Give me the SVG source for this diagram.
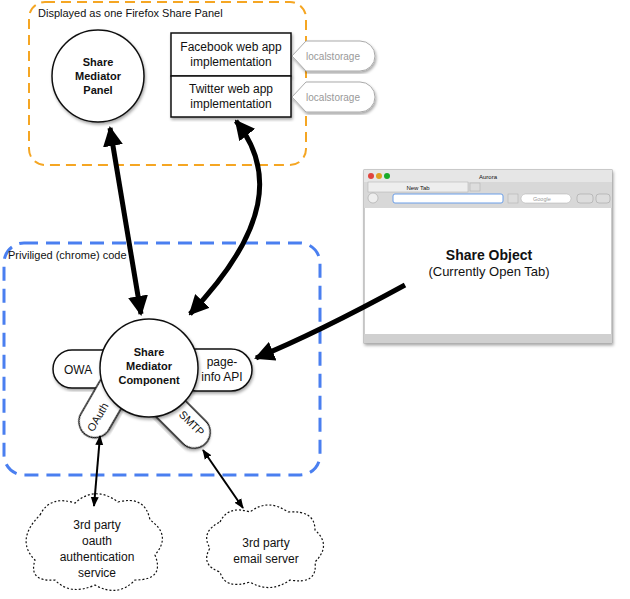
<svg xmlns="http://www.w3.org/2000/svg" width="630" height="599" viewBox="0 0 630 599">
<style>
text{font-family:"Liberation Sans",Arial,sans-serif;fill:#111}
.b{font-weight:bold}
.shape{fill:#fff;stroke:#111;stroke-width:1.5}
.thick{fill:none;stroke:#000;stroke-width:5}
.thin{fill:none;stroke:#000;stroke-width:2}
.cloud{fill:#fff;stroke:#111;stroke-width:1.2;stroke-dasharray:2 2}
.tag{fill:#fff;stroke:#aaa;stroke-width:1}
</style>
<defs>
<marker id="ah" viewBox="0 0 10 10" refX="9" refY="5" markerWidth="4" markerHeight="4" orient="auto-start-reverse"><path d="M0,0L10,5L0,10z" fill="#000"/></marker>
<marker id="as" viewBox="0 0 10 10" refX="9" refY="5" markerWidth="5" markerHeight="5" orient="auto-start-reverse"><path d="M0,1L10,5L0,9z" fill="#000"/></marker>
<filter id="sh"><feDropShadow dx="1" dy="2" stdDeviation="1.5" flood-opacity="0.35"/></filter>
</defs>
<rect width="630" height="599" fill="#fff"/>
<g id="panel-group">
<rect x="29" y="2" width="277" height="163" rx="16" fill="none" stroke="#f5a623" stroke-width="2" stroke-dasharray="10 6"/>
<text x="38" y="17" font-size="11">Displayed as one Firefox Share Panel</text>
</g>
<g id="chrome-group">
<rect x="4" y="243" width="316" height="232" rx="20" fill="none" stroke="#4a7ff0" stroke-width="3" stroke-dasharray="14 8"/>
<text x="8" y="259" font-size="11">Priviliged (chrome) code</text>
</g>
<g id="share-panel">
<circle cx="98" cy="76" r="46" class="shape" filter="url(#sh)"/>
<text x="98" y="66" font-size="11" class="b" text-anchor="middle">Share</text>
<text x="98" y="80" font-size="11" class="b" text-anchor="middle">Mediator</text>
<text x="98" y="94" font-size="11" class="b" text-anchor="middle">Panel</text>
</g>
<g id="facebook">
<rect x="171" y="33" width="120" height="43" class="shape" filter="url(#sh)"/>
<text x="231" y="51" font-size="12" text-anchor="middle">Facebook web app</text>
<text x="231" y="66" font-size="12" text-anchor="middle">implementation</text>
</g>
<g id="twitter">
<rect x="171" y="76" width="120" height="41" class="shape" filter="url(#sh)"/>
<text x="231" y="93" font-size="12" text-anchor="middle">Twitter web app</text>
<text x="231" y="108" font-size="12" text-anchor="middle">implementation</text>
</g>
<g id="ls1">
<path d="M292,56 L306,41 H360 A15,15 0 0 1 360,71 H306 Z" class="tag" filter="url(#sh)"/>
<text x="333" y="60" font-size="10" style="fill:#999" text-anchor="middle">localstorage</text>
</g>
<g id="ls2">
<path d="M292,97 L306,82 H360 A15,15 0 0 1 360,112 H306 Z" class="tag" filter="url(#sh)"/>
<text x="333" y="101" font-size="10" style="fill:#999" text-anchor="middle">localstorage</text>
</g>
<g id="owa">
<rect x="53" y="350" width="70" height="38" rx="19" class="shape" filter="url(#sh)"/>
<text x="64" y="374" font-size="12">OWA</text>
</g>
<g id="pageinfo">
<rect x="175" y="349" width="77" height="42" rx="21" class="shape" filter="url(#sh)"/>
<text x="222" y="366" font-size="12" text-anchor="middle">page-</text>
<text x="222" y="381" font-size="12" text-anchor="middle">info API</text>
</g>
<g id="oauth">
<rect x="-34" y="-16" width="68" height="32" rx="16" class="shape" filter="url(#sh)" transform="translate(104,406) rotate(-60)"/>
<text font-size="11" text-anchor="middle" transform="translate(101,419) rotate(-60)">OAuth</text>
</g>
<g id="smtp">
<rect x="-36" y="-16" width="72" height="32" rx="16" class="shape" filter="url(#sh)" transform="translate(180,418) rotate(45)"/>
<text font-size="11" text-anchor="middle" transform="translate(189,426) rotate(45)">SMTP</text>
</g>
<g id="component">
<circle cx="149" cy="368" r="49" class="shape" filter="url(#sh)"/>
<text x="149" y="356" font-size="11" class="b" text-anchor="middle">Share</text>
<text x="149" y="370" font-size="11" class="b" text-anchor="middle">Mediator</text>
<text x="149" y="384" font-size="11" class="b" text-anchor="middle">Component</text>
</g>
<g id="browser">
<rect x="364" y="170" width="248" height="173" fill="#fff" stroke="#999" filter="url(#sh)"/>
<rect x="364" y="170" width="248" height="38" fill="#d8d8d8"/>
<rect x="364" y="170" width="248" height="12" fill="#e6e6e6"/>
<circle cx="371" cy="176" r="3" fill="#e0443e"/><circle cx="379" cy="176" r="3" fill="#dea123"/><circle cx="387" cy="176" r="3" fill="#1aab29"/>
<text x="488" y="179" font-size="6" text-anchor="middle">Aurora</text>
<rect x="368" y="182" width="100" height="10" fill="#eee" stroke="#aaa" stroke-width="0.5"/>
<text x="418" y="190" font-size="6" text-anchor="middle">New Tab</text>
<rect x="470" y="183" width="10" height="8" fill="#ddd" stroke="#aaa" stroke-width="0.5"/>
<circle cx="373" cy="198" r="5" fill="#eee" stroke="#999" stroke-width="0.5"/>
<rect x="393" y="194" width="110" height="9" rx="2" fill="#fff" stroke="#6a9ee8"/>
<rect x="508" y="194" width="10" height="9" fill="#ddd" stroke="#aaa" stroke-width="0.5"/>
<rect x="521" y="194" width="50" height="9" rx="4.5" fill="#fff" stroke="#aaa" stroke-width="0.5"/>
<text x="533" y="201" font-size="5.5" style="fill:#999">Google</text>
<rect x="577" y="194" width="16" height="9" rx="3" fill="#ddd" stroke="#999" stroke-width="0.5"/>
<rect x="596" y="194" width="14" height="9" rx="3" fill="#ddd" stroke="#999" stroke-width="0.5"/>
<rect x="364" y="334" width="248" height="9" fill="#d0d0d0"/>
<text x="489" y="260" font-size="14" class="b" text-anchor="middle">Share Object</text>
<text x="489" y="276" font-size="13" text-anchor="middle">(Currently Open Tab)</text>
</g>
<g id="cloud-oauth">
<path class="cloud" d="M40,515 Q50,495 75,503 Q95,485 118,502 Q145,495 150,520 Q172,535 155,555 Q165,580 135,580 Q118,598 95,585 Q70,596 55,580 Q28,582 35,560 Q15,540 40,515 Z"/>
<text x="97" y="529" font-size="12" text-anchor="middle">3rd party</text>
<text x="97" y="545" font-size="12" text-anchor="middle">oauth</text>
<text x="97" y="561" font-size="12" text-anchor="middle">authentication</text>
<text x="97" y="577" font-size="12" text-anchor="middle">service</text>
</g>
<g id="cloud-email">
<path class="cloud" d="M220,522 Q228,505 250,512 Q268,498 288,512 Q315,510 315,530 Q332,545 315,562 Q318,585 290,580 Q270,594 250,582 Q225,590 220,572 Q200,565 210,548 Q200,532 220,522 Z"/>
<text x="266" y="547" font-size="12" text-anchor="middle">3rd party</text>
<text x="266" y="563" font-size="12" text-anchor="middle">email server</text>
</g>
<g id="connectors">
<path class="thick" d="M110,128 L141,314" marker-start="url(#ah)" marker-end="url(#ah)"/>
<path class="thick" d="M236,121 C275,170 270,230 190,314" marker-start="url(#ah)" marker-end="url(#ah)"/>
<path class="thick" d="M405,285 C350,315 300,340 256,358" marker-end="url(#ah)"/>
<path class="thin" d="M100,436 L94,506" marker-start="url(#as)" marker-end="url(#as)"/>
<path class="thin" d="M203,450 L243,508" marker-start="url(#as)" marker-end="url(#as)"/>
</g>
</svg>
